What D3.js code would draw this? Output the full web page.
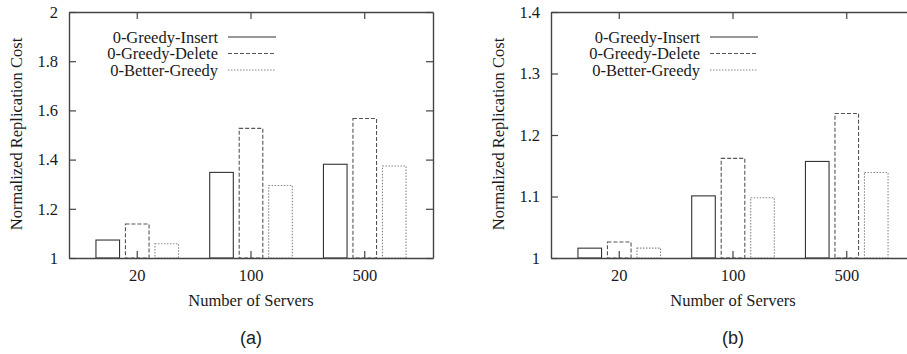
<!DOCTYPE html>
<html>
<head>
<meta charset="utf-8">
<script src="https://cdn.jsdelivr.net/npm/d3@7"></script>
<style>
  body { margin: 0; background: #fff; }
  svg { display: block; }
  .serif { font-family: "Liberation Serif", "Times New Roman", serif; font-size: 16.5px; }
</style>
</head>
<body>
<div id="chart"></div>
<script>
// categories and series
var servers = ["20", "100", "500"];
var seriesNames = ["0-Greedy-Insert", "0-Greedy-Delete", "0-Better-Greedy"];

// panel (a) values
var insertA = [1.073, 1.348, 1.381];
var deleteA = [1.138, 1.527, 1.567];
var betterA = [1.058, 1.295, 1.374];
var ticksA = [1, 1.2, 1.4, 1.6, 1.8, 2];

// panel (b) values
var insertB = [1.016, 1.101, 1.157];
var deleteB = [1.026, 1.162, 1.235];
var betterB = [1.016, 1.098, 1.139];
var ticksB = [1, 1.1, 1.2, 1.3, 1.4];

var svgWidth = 907;
var svgHeight = 354;

var svg = d3.select("#chart")
  .append("svg")
  .attr("width", svgWidth)
  .attr("height", svgHeight);

// stroke styles per series: solid, dashed, dotted
var styles = [
  { stroke: "#333", dash: null },
  { stroke: "#555", dash: "4,2" },
  { stroke: "#888", dash: "1.5,1.5" }
];

function drawPanel(offsetX, series, yDomain, yTicks, caption) {
  var margin = { top: 12, left: 69 };
  var width = 364;
  var height = 246;

  var g = svg.append("g")
    .attr("transform", `translate(${offsetX + margin.left}, ${margin.top})`);

  var x0 = d3.scaleBand()
    .domain(servers)
    .range([0, width])
    .paddingInner(0)
    .paddingOuter(0.1);

  var bw = x0.bandwidth();
  var x1 = d3.scaleBand()
    .domain(seriesNames)
    .range([bw / 2 - 41.3, bw / 2 + 41.3])
    .paddingInner(0.2);

  var y = d3.scaleLinear()
    .domain(yDomain)
    .range([height, 0]);

  // bars
  var rows = [];
  servers.forEach(function(s, i) {
    seriesNames.forEach(function(name, j) {
      rows.push({ server: s, name: name, idx: j, value: series[j][i] });
    });
  });

  g.selectAll("rect.bar")
    .data(rows)
    .enter()
    .append("rect")
    .attr("class", "bar")
    .attr("x", d => x0(d.server) + x1(d.name))
    .attr("y", d => y(d.value))
    .attr("width", x1.bandwidth())
    .attr("height", d => y(yDomain[0]) - y(d.value))
    .attr("fill", "none")
    .attr("stroke", d => styles[d.idx].stroke)
    .attr("stroke-width", 1.1)
    .attr("stroke-dasharray", d => styles[d.idx].dash);

  // axes, gnuplot style ticks pointing inward
  var bottomAxis = d3.axisBottom(x0).tickSizeInner(-7).tickSizeOuter(0).tickPadding(11);
  var topAxis = d3.axisTop(x0).tickSizeInner(-7).tickSizeOuter(0).tickFormat("");
  var leftAxis = d3.axisLeft(y).tickValues(yTicks).tickFormat(d3.format(""))
    .tickSizeInner(-7).tickSizeOuter(0).tickPadding(11);
  var rightAxis = d3.axisRight(y).tickValues(yTicks).tickFormat("")
    .tickSizeInner(-7).tickSizeOuter(0);

  var axes = [
    g.append("g").attr("transform", `translate(0, ${height})`).call(bottomAxis),
    g.append("g").call(topAxis),
    g.append("g").call(leftAxis),
    g.append("g").attr("transform", `translate(${width}, 0)`).call(rightAxis)
  ];
  axes.forEach(function(a) {
    a.attr("font-family", null).attr("font-size", null);
    a.selectAll("path.domain").attr("stroke", "#444").attr("stroke-width", 1.4);
    a.selectAll(".tick line").attr("stroke", "#444").attr("stroke-width", 1.2);
    a.selectAll(".tick text")
      .attr("class", "serif")
      .attr("fill", "#1a1a1a");
  });

  // legend
  var legend = g.append("g")
    .attr("transform", "translate(149, 25)");
  seriesNames.forEach(function(name, j) {
    var row = legend.append("g").attr("transform", `translate(0, ${j * 16.5})`);
    row.append("text")
      .attr("class", "serif")
      .attr("x", 0)
      .attr("y", 0)
      .attr("dy", "0.35em")
      .attr("text-anchor", "end")
      .attr("fill", "#1a1a1a")
      .text(name);
    row.append("line")
      .attr("x1", 10)
      .attr("x2", 58)
      .attr("y1", 0)
      .attr("y2", 0)
      .attr("stroke", styles[j].stroke)
      .attr("stroke-width", 1.1)
      .attr("stroke-dasharray", styles[j].dash);
  });

  // axis titles
  g.append("text")
    .attr("class", "serif")
    .attr("transform", "rotate(-90)")
    .attr("x", -height / 2 + 1)
    .attr("y", -47)
    .attr("text-anchor", "middle")
    .attr("fill", "#1a1a1a")
    .text("Normalized Replication Cost");

  g.append("text")
    .attr("class", "serif")
    .attr("x", x0("100") + bw / 2)
    .attr("y", height + 48)
    .attr("text-anchor", "middle")
    .attr("fill", "#1a1a1a")
    .text("Number of Servers");

  g.append("text")
    .attr("x", x0("100") + bw / 2)
    .attr("y", height + 86)
    .attr("text-anchor", "middle")
    .attr("fill", "#222")
    .style("font-family", "'Liberation Sans', Arial, sans-serif")
    .style("font-size", "18px")
    .text(caption);
}

drawPanel(0, [insertA, deleteA, betterA], [1, 2], ticksA, "(a)");
drawPanel(482, [insertB, deleteB, betterB], [1, 1.4], ticksB, "(b)");
</script>
</body>
</html>
